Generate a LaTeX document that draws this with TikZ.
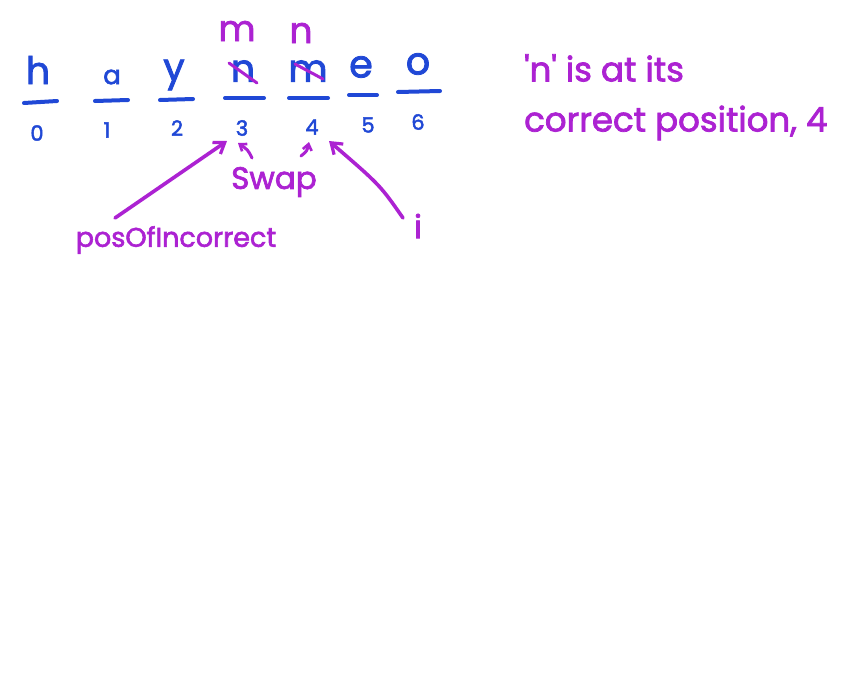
\documentclass[tikz,border=0pt]{standalone}
\usepackage{fontspec}
\setmainfont{Poppins}
\newfontfamily\ink{Poppins}[FakeBold=2.2]
\usetikzlibrary{arrows.meta}
\definecolor{inkblue}{RGB}{32,72,214}
\definecolor{inkpurple}{RGB}{172,34,210}
\tikzset{
  letter/.style={text=inkblue, font=\ink\fontsize{38}{38}\selectfont, inner sep=0pt},
  idx/.style={text=inkblue, font=\ink\fontsize{21}{21}\selectfont, inner sep=0pt},
  bar/.style={draw=inkblue, line width=4pt, line cap=round},
  note/.style={text=inkpurple, inner sep=0pt},
  strike/.style={draw=inkpurple, line width=3pt, line cap=round},
  pointer/.style={draw=inkpurple, line width=3.6pt, line cap=round, -{Straight Barb[length=10pt,width=14pt,line width=3.2pt]}},
  smallptr/.style={draw=inkpurple, line width=3pt, line cap=round, -{Straight Barb[length=6pt,width=9pt,line width=2.6pt]}}
}
\begin{document}
\begin{tikzpicture}[x=1pt,y=-1pt]
\fill[white] (0,0) rectangle (860,675);
\useasboundingbox (0,0) rectangle (860,675);
% letters
\node[letter] (L0) at (38,70) {h};
\node[letter] (L1) at (112,77) {\fontsize{26}{26}\selectfont a};
\node[letter] (L2) at (174,75) {y};
\node[letter] (L3) at (243,71) {n};
\node[letter] (L4) at (308,71) {m};
\node[letter] (L5) at (361,67) {e};
\node[letter] (L6) at (418,64) {o};
% underlines
\coordinate (B0a) at (24,103); \coordinate (B0b) at (57,101);
\coordinate (B1a) at (95,101); \coordinate (B1b) at (128,100);
\coordinate (B2a) at (160,100); \coordinate (B2b) at (193,99);
\coordinate (B3a) at (225,98); \coordinate (B3b) at (264,98);
\coordinate (B4a) at (289,98); \coordinate (B4b) at (328,98);
\coordinate (B5a) at (349,95); \coordinate (B5b) at (377,95);
\coordinate (B6a) at (398,92); \coordinate (B6b) at (440,91);
\foreach \i in {0,...,6} { \draw[bar] (B\i a) -- (B\i b); }
% indices
\node[idx] (I0) at (37,133) {0};
\node[idx] (I1) at (107,130) {1};
\node[idx] (I2) at (177,128) {2};
\node[idx] (I3) at (242,128) {3};
\node[idx] (I4) at (312,127) {4};
\node[idx] (I5) at (368,125) {5};
\node[idx] (I6) at (418,122) {6};
% strike-throughs
\coordinate (S3a) at (229,63); \coordinate (S3b) at (257,83);
\coordinate (S4a) at (295,64); \coordinate (S4b) at (323,79);
\draw[strike] (S3a) -- (S3b);
\draw[strike] (S4a) -- (S4b);
% new letters above
\node[note, font=\ink\fontsize{36}{36}\selectfont] (M) at (237,31) {m};
\node[note, font=\ink\fontsize{36}{36}\selectfont] (N) at (301,33) {n};
% labels
\node[note, font=\ink\fontsize{31}{31}\selectfont] (swap) at (274,182) {Swap};
\node[note, font=\ink\fontsize{27}{27}\selectfont] (pos) at (176,240) {posOfIncorrect};
\node[note, font=\ink\fontsize{32}{32}\selectfont] (ilab) at (418,226) {i};
% arrows
\coordinate (Pstart) at (115,218);
\coordinate (Pend) at (227,141);
\draw[pointer] (Pstart) -- (Pend);
\coordinate (Sw1s) at (252,158);
\coordinate (Sw1e) at (238,143);
\draw[smallptr] (Sw1s) .. controls (248,150) .. (Sw1e);
\coordinate (Sw2s) at (301,156);
\coordinate (Sw2e) at (309,142);
\draw[smallptr] (Sw2s) .. controls (307,151) .. (Sw2e);
\coordinate (Istart) at (403,218);
\coordinate (Iend) at (329,141);
\draw[pointer] (Istart) .. controls (380,185) .. (Iend);
% right note
\node[note, font=\ink\fontsize{34}{34}\selectfont, anchor=west] (t1) at (524,68) {'n' is at its};
\node[note, font=\ink\fontsize{34}{34}\selectfont, anchor=west] (t2) at (524,123) {correct position, 4};
\end{tikzpicture}
\end{document}
